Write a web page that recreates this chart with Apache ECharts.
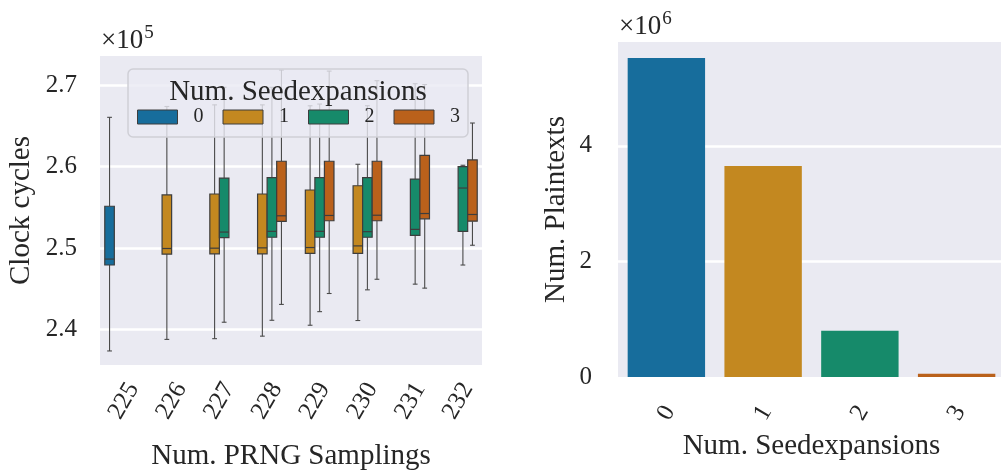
<!DOCTYPE html>
<html>
<head>
<meta charset="utf-8">
<script src="https://cdn.jsdelivr.net/npm/echarts@6/dist/echarts.min.js"></script>
<style>
html,body{margin:0;padding:0;background:#fff;}
#chart{width:1001px;height:472px;}
</style>
</head>
<body>
<div id="chart"></div>
<script>
// ---------- data ----------
const samplings = ['225','226','227','228','229','230','231','232'];
const hueNames = ['0','1','2','3'];
// box stats per sampling: [min whisker, q1, median, q3, max whisker] in clock cycles (null = no data)
const seed0 = [
  [237360, 247920, 248650, 255140, 266070], null, null, null, null, null, null, null
];
const seed1 = [
  null,
  [238780, 249260, 249950, 256530, 267400],
  [238870, 249290, 249990, 256650, 267600],
  [239180, 249290, 250030, 256650, 267600],
  [240520, 249340, 250070, 257140, 267490],
  [241100, 249340, 250270, 257660, 260300],
  null, null
];
const seed2 = [
  null, null,
  [240890, 251290, 251970, 258600, 269760],
  [241130, 251330, 252060, 258670, 269760],
  [242190, 251330, 252060, 258670, 267700],
  [244870, 251330, 252020, 258670, 267500],
  [245570, 251570, 252300, 258480, 270200],
  [247920, 252060, 257380, 260010, 260180]
];
const seed3 = [
  null, null, null,
  [243080, 253280, 253970, 260670, 271880],
  [244420, 253360, 254010, 260670, 271750],
  [246170, 253360, 254040, 260670, 270570],
  [245080, 253600, 254250, 261400, 270100],
  [250350, 253310, 254130, 260830, 265370]
];
const seedExpansions = ['0','1','2','3'];
const plaintexts = [5520000, 3650000, 800000, 57000];
const leftTicks = [240000, 250000, 260000, 270000];

// ---------- styling ----------
const palette = ['#176d9c', '#c38820', '#168a6a', '#ba611b'];
const FONT = 'Liberation Serif';
const TXT = '#262626';
const EDGE = '#3d3d3d';

const allBoxes = [seed0, seed1, seed2, seed3];
let lo = Infinity, hi = -Infinity;
allBoxes.forEach(s => s.forEach(b => { if (b) { lo = Math.min(lo, b[0]); hi = Math.max(hi, b[4]); } }));
const pad = (hi - lo) * 0.05;
const yMinL = lo - pad, yMaxL = hi + pad;
const yMaxR = Math.max(...plaintexts) * 1.05;

function seriesData(arr) {
  const out = [];
  arr.forEach((b, i) => { if (b) out.push([i].concat(b)); });
  return out;
}

function makeRender(hue) {
  return function (params, api) {
    const cat = api.value(0);
    const v = [1,2,3,4,5].map(i => api.value(i));
    const band = api.size([1, 0])[0];
    const w = band * 0.8 / 4;
    const base = api.coord([cat, v[2]])[0];
    const cx = base + (hue - 1.5) * w;
    const y = v.map(val => api.coord([cat, val])[1]);
    const ls = { stroke: '#4a4a4a', lineWidth: 1.1 };
    const cap = w / 4;
    return {
      type: 'group',
      children: [
        { type: 'line', shape: { x1: cx, y1: y[0], x2: cx, y2: y[1] }, style: ls },
        { type: 'line', shape: { x1: cx, y1: y[3], x2: cx, y2: y[4] }, style: ls },
        { type: 'line', shape: { x1: cx - cap, y1: y[0], x2: cx + cap, y2: y[0] }, style: ls },
        { type: 'line', shape: { x1: cx - cap, y1: y[4], x2: cx + cap, y2: y[4] }, style: ls },
        { type: 'rect', shape: { x: cx - w / 2, y: y[3], width: w, height: y[1] - y[3] },
          style: { fill: palette[hue], stroke: EDGE, lineWidth: 1.2 } },
        { type: 'line', shape: { x1: cx - w / 2, y1: y[2], x2: cx + w / 2, y2: y[2] }, style: { stroke: EDGE, lineWidth: 1.2 } }
      ]
    };
  };
}

const boxSeries = allBoxes.map((arr, hue) => ({
  name: hueNames[hue],
  type: 'custom',
  xAxisIndex: 0, yAxisIndex: 0,
  renderItem: makeRender(hue),
  itemStyle: { color: palette[hue], borderColor: EDGE, borderWidth: 1 },
  encode: { x: 0, y: [1, 2, 3, 4, 5] },
  data: seriesData(arr),
  z: 2
}));

const richMul = {
  a: { fontFamily: FONT, fontSize: 27, color: TXT, lineHeight: 30, verticalAlign: 'bottom' },
  b: { fontFamily: FONT, fontSize: 19, color: TXT, lineHeight: 30, verticalAlign: 'top', padding: [0, 0, 10, 1] }
};

const chart = echarts.init(document.getElementById('chart'), null, { renderer: 'canvas' });

const option = {
  animation: false,
  color: palette,
  textStyle: { fontFamily: FONT, color: TXT },
  grid: [
    { left: 100, top: 56, width: 382, height: 309, show: true, backgroundColor: '#EAEAF2', borderWidth: 0,
      outerBoundsMode: 'none', containLabel: false },
    { left: 618, top: 42, width: 387, height: 335, show: true, backgroundColor: '#EAEAF2', borderWidth: 0,
      outerBoundsMode: 'none', containLabel: false }
  ],
  xAxis: [
    {
      type: 'category', gridIndex: 0, data: samplings,
      axisLine: { show: false }, axisTick: { show: false }, splitLine: { show: false },
      axisLabel: { rotate: 60, interval: 0, margin: 36, align: 'center', verticalAlign: 'middle',
        fontFamily: FONT, fontSize: 25, color: TXT },
      name: 'Num. PRNG Samplings', nameLocation: 'middle', nameGap: 77,
      nameTextStyle: { fontFamily: FONT, fontSize: 29, color: TXT }
    },
    {
      type: 'category', gridIndex: 1, data: seedExpansions,
      axisLine: { show: false }, axisTick: { show: false }, splitLine: { show: false },
      axisLabel: { rotate: 60, interval: 0, margin: 36, align: 'center', verticalAlign: 'middle',
        fontFamily: FONT, fontSize: 25, color: TXT },
      name: 'Num. Seedexpansions', nameLocation: 'middle', nameGap: 55,
      nameTextStyle: { fontFamily: FONT, fontSize: 29, color: TXT }
    }
  ],
  yAxis: [
    {
      type: 'value', gridIndex: 0, min: yMinL, max: yMaxL, splitNumber: 4,
      axisLine: { show: false }, axisTick: { show: false },
      splitLine: { show: true, showMinLine: false, showMaxLine: false, lineStyle: { color: '#ffffff', width: 2.5 } },
      axisLabel: { showMinLabel: false, showMaxLabel: false, margin: 23,
        formatter: v => (leftTicks.indexOf(Math.round(v)) >= 0 ? (v / 1e5).toFixed(1) : ''),
        fontFamily: FONT, fontSize: 25, color: TXT },
      name: 'Clock cycles', nameLocation: 'middle', nameGap: 64,
      nameTextStyle: { fontFamily: FONT, fontSize: 29, color: TXT }
    },
    {
      type: 'value', gridIndex: 1, min: 0, max: yMaxR, interval: 2000000,
      axisLine: { show: false }, axisTick: { show: false },
      splitLine: { show: true, showMinLine: false, showMaxLine: false, lineStyle: { color: '#ffffff', width: 2.5 } },
      axisLabel: { showMaxLabel: false, margin: 26, formatter: v => String(Math.round(v / 1e6)),
        fontFamily: FONT, fontSize: 25, color: TXT },
      name: 'Num. Plaintexts', nameLocation: 'middle', nameGap: 47,
      nameTextStyle: { fontFamily: FONT, fontSize: 29, color: TXT }
    }
  ],
  legend: {
    data: hueNames, left: 137, top: 107, padding: 0, z: 6,
    icon: 'rect', itemWidth: 40, itemHeight: 14, itemGap: 19,
    itemStyle: { borderColor: EDGE, borderWidth: 1 },
    textStyle: { fontFamily: FONT, fontSize: 20, color: TXT, padding: [0, 0, 0, 11] }
  },
  graphic: [
    { type: 'rect', z: 5, shape: { x: 128, y: 69, width: 340, height: 68, r: 5 },
      style: { fill: 'rgba(234,234,242,0.8)', stroke: '#cfcfd6', lineWidth: 1.5 } },
    { type: 'text', z: 7, x: 298, y: 92,
      style: { text: 'Num. Seedexpansions', font: '29px "Liberation Serif"', fill: TXT,
        textAlign: 'center', textVerticalAlign: 'middle' } },
    { type: 'text', z: 7, x: 101, y: 54,
      style: { text: '{a|×10}{b|5}', fill: TXT, textAlign: 'left', textVerticalAlign: 'bottom', rich: richMul } },
    { type: 'text', z: 7, x: 619, y: 40,
      style: { text: '{a|×10}{b|6}', fill: TXT, textAlign: 'left', textVerticalAlign: 'bottom', rich: richMul } }
  ],
  series: boxSeries.concat([
    {
      type: 'bar', xAxisIndex: 1, yAxisIndex: 1, data: plaintexts,
      colorBy: 'data', barCategoryGap: '20%'
    }
  ])
};
chart.setOption(option);
</script>
</body>
</html>
